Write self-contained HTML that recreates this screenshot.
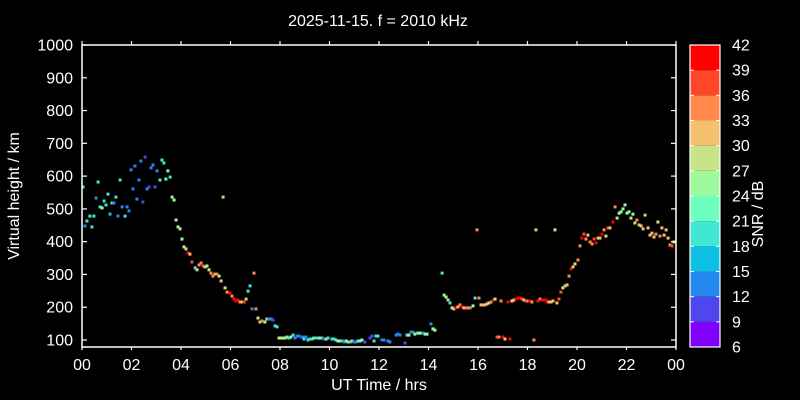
<!DOCTYPE html>
<html><head><meta charset="utf-8"><style>
html,body{margin:0;padding:0;background:#000;}
svg{display:block;font-family:"Liberation Sans",sans-serif;}
</style></head><body>
<svg id="chart" width="800" height="400" viewBox="0 0 800 400">
<rect width="800" height="400" fill="#000"/>
<text x="378" y="26" fill="#fff" font-size="16" text-anchor="middle">2025-11-15. f = 2010 kHz</text>
<text x="379" y="390" fill="#fff" font-size="16" text-anchor="middle">UT Time / hrs</text>
<text x="19" y="196" fill="#fff" font-size="16" text-anchor="middle" transform="rotate(-90 19 196)">Virtual height / km</text>
<g id="points"></g>
<g id="axes"></g>
<g id="cbar"></g>
<text x="763" y="214" fill="#fff" font-size="16" text-anchor="middle" transform="rotate(-90 763 214)">SNR / dB</text>
</svg>
<script>
const times=[0.04,0.12,0.20,0.32,0.40,0.48,0.57,0.65,0.73,0.81,0.89,0.97,1.05,1.13,1.21,1.29,1.37,1.45,1.54,1.62,1.74,1.82,1.90,1.98,2.06,2.14,2.22,2.30,2.38,2.46,2.55,2.63,2.71,2.79,2.87,2.95,3.03,3.15,3.23,3.31,3.39,3.47,3.56,3.64,3.72,3.80,3.88,3.96,4.04,4.12,4.20,4.28,4.36,4.44,4.57,4.65,4.73,4.81,4.89,4.97,5.05,5.13,5.21,5.29,5.37,5.45,5.54,5.62,5.70,5.78,5.86,5.98,6.06,6.14,6.22,6.30,6.38,6.46,6.55,6.63,6.71,6.79,6.87,6.95,7.03,7.11,7.19,7.27,7.39,7.47,7.56,7.64,7.72,7.80,7.88,7.96,8.04,8.12,8.20,8.28,8.36,8.44,8.53,8.61,8.69,8.77,8.85,8.93,8.97,9.05,9.13,9.21,9.29,9.37,9.45,9.54,9.62,9.70,9.78,9.86,9.94,10.10,10.18,10.26,10.34,10.42,10.51,10.59,10.67,10.75,10.83,10.91,10.99,11.07,11.15,11.23,11.31,11.43,11.64,11.72,11.80,11.88,11.96,12.12,12.20,12.36,12.44,12.69,12.77,12.85,13.05,13.13,13.21,13.29,13.37,13.45,13.54,13.62,13.70,13.78,13.86,13.94,14.10,14.18,14.26,14.55,14.63,14.71,14.79,14.87,14.95,15.03,15.11,15.19,15.27,15.35,15.43,15.52,15.60,15.68,15.80,15.88,15.96,16.04,16.12,16.20,16.28,16.36,16.44,16.53,16.61,16.69,16.77,16.85,16.93,17.01,17.09,17.21,17.29,17.37,17.45,17.54,17.62,17.70,17.78,17.86,17.94,18.02,18.10,18.18,18.26,18.34,18.42,18.51,18.59,18.67,18.75,18.79,18.87,18.95,19.03,19.11,19.19,19.27,19.35,19.43,19.52,19.60,19.68,19.76,19.84,19.92,20.04,20.12,20.20,20.28,20.36,20.44,20.53,20.61,20.69,20.77,20.85,20.93,21.01,21.09,21.17,21.25,21.33,21.45,21.54,21.62,21.70,21.78,21.86,21.94,22.02,22.10,22.18,22.26,22.34,22.42,22.51,22.59,22.67,22.75,22.87,22.95,23.03,23.11,23.19,23.27,23.35,23.43,23.52,23.60,23.68,23.76,23.84,23.92];
const heights=[567,448,463,478,445,478,533,582,506,503,524,512,545,484,518,518,536,478,588,506,478,506,494,619,561,631,530,588,646,521,658,561,567,625,634,567,616,588,649,640,591,616,597,536,527,466,445,439,408,384,378,366,362,338,320,314,329,335,326,323,326,314,304,295,301,301,295,280,536,259,246,243,234,225,219,222,216,216,216,225,249,265,195,304,195,167,155,158,155,164,164,164,161,143,140,106,106,106,106,109,106,109,115,106,112,112,109,109,103,109,100,103,103,106,106,106,106,106,103,103,106,103,103,100,97,97,97,94,97,94,94,97,94,94,97,97,100,94,106,112,97,112,112,100,100,97,94,115,118,115,91,115,115,124,124,118,121,121,121,121,118,118,149,134,130,304,237,231,222,213,198,195,198,201,207,201,198,198,198,198,204,228,436,228,207,207,207,210,213,216,222,225,109,109,219,109,103,216,103,219,222,225,228,228,225,222,219,219,219,216,100,436,219,225,222,222,222,216,216,216,219,436,213,225,246,259,265,268,295,317,323,332,344,387,411,423,408,420,399,393,408,396,411,411,423,436,417,442,442,460,506,472,487,491,500,512,487,491,472,484,457,466,451,448,439,481,442,420,426,414,423,460,417,442,420,436,411,390,387,399];
const snrs=[19,13,19,19,19,19,13,19,19,25,19,19,19,16,19,13,19,13,19,13,19,13,13,13,13,13,13,13,13,10,10,13,10,13,13,10,13,19,19,19,22,22,19,25,25,25,25,28,25,28,28,40,31,37,19,31,34,34,37,28,25,28,34,34,31,34,25,31,31,28,34,40,34,40,40,40,34,31,37,31,19,19,13,34,34,28,31,34,25,31,13,13,10,19,19,28,28,28,25,25,19,25,19,13,13,13,10,13,19,13,19,19,19,25,19,19,25,19,10,28,19,19,19,19,25,25,19,13,25,25,19,31,13,13,19,25,25,10,10,10,19,19,19,13,13,13,13,13,13,13,10,19,25,13,13,25,19,25,25,13,25,25,13,25,25,19,25,25,31,19,28,28,40,31,34,40,31,34,34,34,25,19,34,34,31,31,31,31,28,34,40,28,37,34,34,40,31,40,40,28,31,40,40,40,37,31,37,34,40,34,34,31,40,34,40,40,40,40,31,31,31,28,31,37,37,25,31,31,34,40,31,28,34,34,40,37,34,31,34,34,37,40,31,31,40,34,28,37,31,40,34,28,25,25,25,25,25,25,25,25,28,34,31,31,31,31,31,31,31,31,34,28,34,31,31,31,31,34,37,28];
const yTicks=[100,200,300,400,500,600,700,800,900,1000];
const xTicks=[0,2,4,6,8,10,12,14,16,18,20,22,24];
const xTickLabels=["00","02","04","06","08","10","12","14","16","18","20","22","00"];
const cbTicks=[6,9,12,15,18,21,24,27,30,33,36,39,42];
const cbColors=["#8000ff","#5046f0","#2388ee","#0dc0e4","#40e8d4","#6effbe","#9cfa9c","#c8e488","#f2c06e","#ff884a","#ff4628","#ff0000"];

const NS="http://www.w3.org/2000/svg";
const L=82,R=676,T=45,B=347;
function xs(t){return L+(t/24)*(R-L);}
function ys(h){return 340-(h-100)*(295/900);}
function cbY(v){return B-(v-6)/36*(B-T);}
function colorFor(s){let i=Math.floor((s-6)/3);if(i<0)i=0;if(i>11)i=11;return cbColors[i];}
function mk(tag,attrs,parent){const e=document.createElementNS(NS,tag);for(const k in attrs)e.setAttribute(k,attrs[k]);parent.appendChild(e);return e;}

const pts=document.getElementById('points');
for(let i=0;i<times.length;i++){
  const r=mk('rect',{x:(xs(times[i])-1.5).toFixed(2),y:(ys(heights[i])-1.5).toFixed(2),width:3,height:3,fill:colorFor(snrs[i])},pts);
  
  
}

const ax=document.getElementById('axes');
const frame=mk('rect',{x:L,y:T,width:R-L,height:B-T,fill:'none',stroke:'#fff','stroke-width':1.5},ax);


yTicks.forEach(v=>{
  const y=ys(v);
  mk('line',{x1:L,x2:L+5,y1:y,y2:y,stroke:'#fff','stroke-width':1.2},ax);
  mk('line',{x1:R-5,x2:R,y1:y,y2:y,stroke:'#fff','stroke-width':1.2},ax);
  const t=mk('text',{x:L-9,y:y+5.5,fill:'#fff','font-size':16,'text-anchor':'end'},ax);
  t.textContent=v;
  
  
});
xTicks.forEach((v,i)=>{
  const x=xs(v);
  mk('line',{x1:x,x2:x,y1:B,y2:B+3,stroke:'#fff','stroke-width':1.2},ax);
  mk('line',{x1:x,x2:x,y1:T-4,y2:T,stroke:'#fff','stroke-width':1.2},ax);
  const t=mk('text',{x:x,y:370,fill:'#fff','font-size':16,'text-anchor':'middle'},ax);
  t.textContent=xTickLabels[i];
  
  
});

const cb=document.getElementById('cbar');
cbColors.forEach((c,i)=>{
  const y1=cbY(6+(i+1)*3),y2=cbY(6+i*3);
  const r=mk('rect',{x:690,y:y1,width:30,height:y2-y1,fill:c},cb);
  
  
});
mk('rect',{x:690,y:T,width:30,height:B-T,fill:'none',stroke:'#fff','stroke-width':1.2},cb);
cbTicks.forEach(v=>{
  const y=cbY(v);
  mk('line',{x1:690,x2:694,y1:y,y2:y,stroke:'#fff','stroke-width':1},cb);
  mk('line',{x1:716,x2:720,y1:y,y2:y,stroke:'#fff','stroke-width':1},cb);
  const t=mk('text',{x:732,y:y+5.5,fill:'#fff','font-size':16},cb);
  t.textContent=v;
  
  
});
</script>
</body></html>
